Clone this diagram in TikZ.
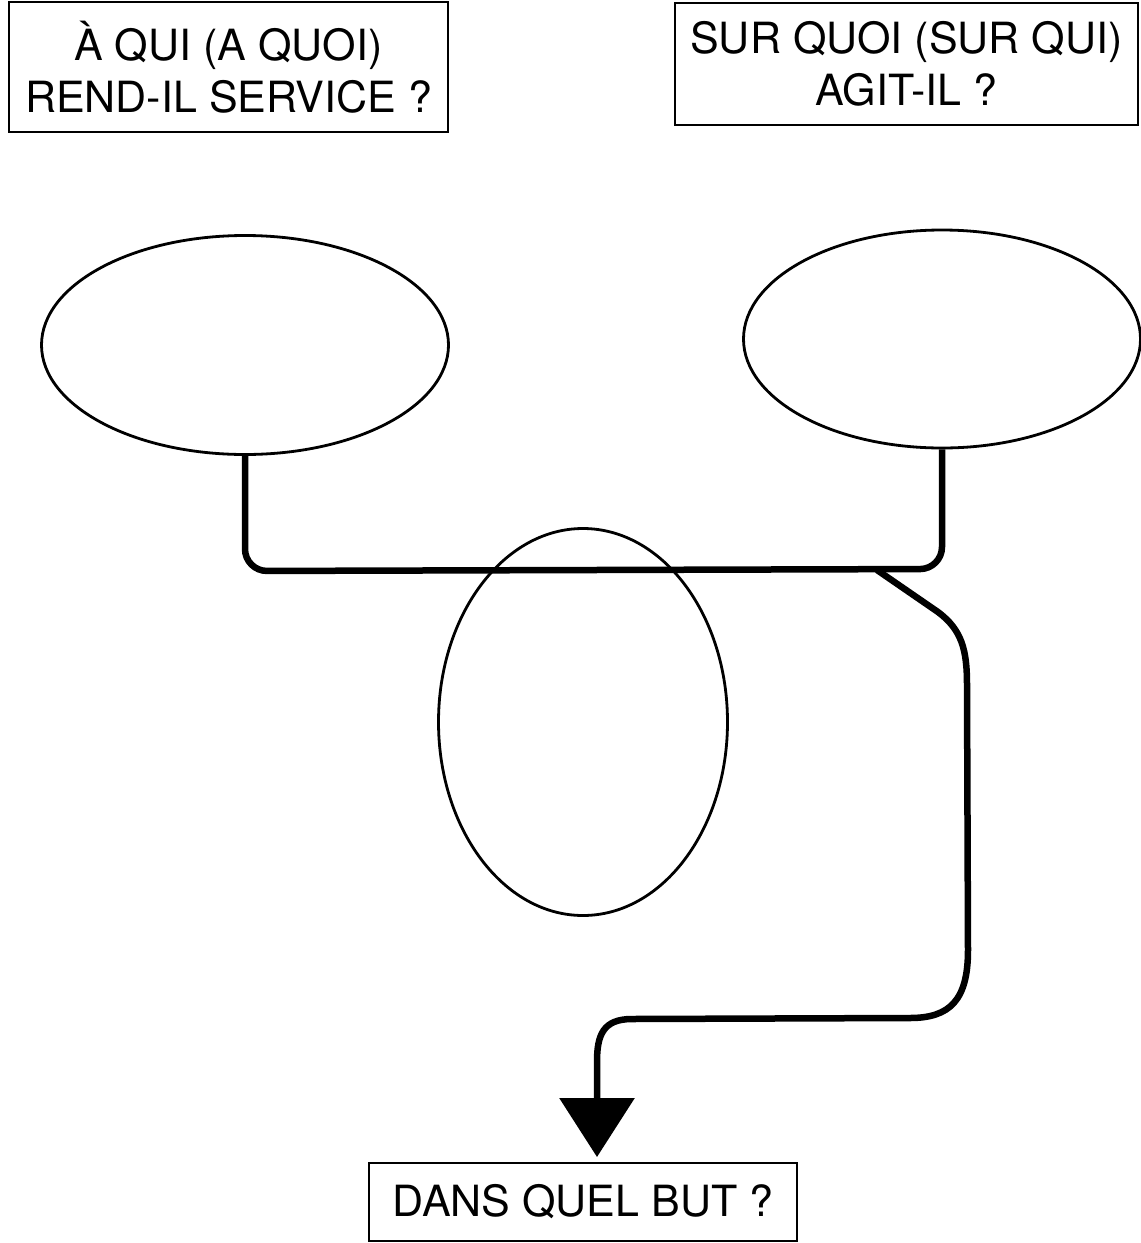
\documentclass[tikz,border=0pt]{standalone}
\usepackage{fontspec}
\setmainfont{TeX Gyre Heros}
\usetikzlibrary{shapes.geometric,arrows.meta}
\begin{document}
\begin{tikzpicture}[x=1pt,y=-1pt,
  qbox/.style={draw,line width=1.8pt,inner sep=0pt,align=center,
    font=\fontsize{43}{52}\selectfont},
  oval/.style={draw,ellipse,line width=2.8pt,inner sep=0pt},
  flow/.style={line width=6.5pt,line join=round}]
\useasboundingbox (0,0) rectangle (1141,1243);
\node[qbox,minimum width=439pt,minimum height=130pt] (q1) at (228.5,67) {À QUI (A QUOI)\\REND-IL SERVICE ?};
\node[qbox,minimum width=463pt,minimum height=122pt] (q2) at (906.5,64) {SUR QUOI (SUR QUI)\\AGIT-IL ?};
\node[oval,minimum width=407pt,minimum height=219pt] (l) at (245,345) {};
\node[oval,minimum width=397pt,minimum height=218pt] (r) at (942,339) {};
\node[oval,minimum width=289pt,minimum height=387pt] (m) at (583,722) {};
\node[qbox,minimum width=428pt,minimum height=78pt] (but) at (583,1202) {DANS QUEL BUT ?};
\coordinate (tip) at (597,1157);
\draw[flow,rounded corners=22pt] (l.south) -- (245,571) -- (r.south |- 0,569) -- (r.south);
\draw[flow,-{Triangle[width=74pt,length=59pt]}]
  (877,570) -- (938,612) .. controls (962,630) and (967,650) .. (967,685)
  -- (968,950) .. controls (968,1000) and (950,1018) .. (910,1018)
  -- (632,1019) .. controls (603,1019) and (597,1035) .. (597,1062)
  -- (tip);
\end{tikzpicture}
\end{document}
